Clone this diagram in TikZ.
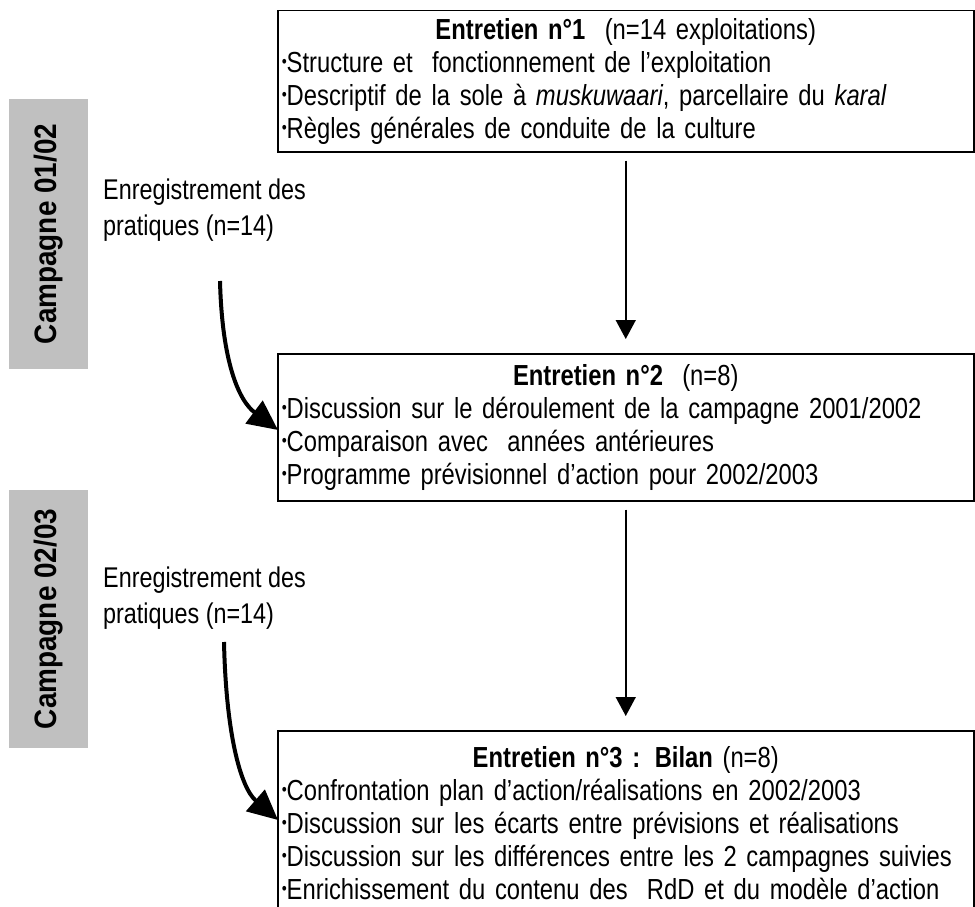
\documentclass[tikz,border=0pt]{standalone}
\usepackage{fontspec}
\setmainfont{Liberation Sans}[FakeStretch=0.82]
\newfontfamily\bandfont{Liberation Sans}[FakeStretch=0.9]
\usetikzlibrary{arrows.meta}
\setlength{\parindent}{0pt}
\definecolor{bandgris}{RGB}{192,192,192}
\newcommand{\puce}{\raisebox{0.28ex}{\scalebox{0.6}{\textbullet}}}

\tikzset{
  entbox/.style={draw, line width=1.5pt, rectangle, anchor=north west, inner xsep=4pt, inner ysep=0pt,
    text width=688pt, minimum width=696pt, align=left, font=\fontsize{29}{33}\selectfont},
  bande/.style={fill=bandgris, rotate=90, inner sep=0pt, minimum height=79pt, font=\bandfont\fontsize{31}{33}\selectfont\bfseries},
  releve/.style={anchor=west, align=left, inner sep=0pt, font=\fontsize{28.5}{36}\selectfont},
  fleche/.style={line width=1.5pt, -{Triangle[length=19pt,width=20pt]}, shorten <=8pt, shorten >=14pt},
  courbe/.style={line width=4pt, -{Triangle[length=30pt,width=28pt]}}
}

\begin{document}
\begin{tikzpicture}[x=1pt,y=-1pt]
\useasboundingbox (0,0) rectangle (975,907);
\clip (0,0) rectangle (975,907);

\node[entbox, minimum height=141pt] (ent1) at (277,10) {\centerline{\textbf{Entretien n°1}\ \ (n=14 exploitations)}
\puce Structure et\ \ fonctionnement de l'exploitation\\
\puce Descriptif de la sole à \textit{muskuwaari}, parcellaire du \textit{karal}\\
\puce Règles générales de conduite de la culture};

\node[entbox, minimum height=147pt] (ent2) at (277,353) {\centerline{\textbf{Entretien n°2}\ \ (n=8)}
\puce Discussion sur le déroulement de la campagne 2001/2002\\
\puce Comparaison avec\ \ années antérieures\\
\puce Programme prévisionnel d'action pour 2002/2003};

\node[entbox, minimum height=184pt] (ent3) at (277,730) {\centerline{\textbf{Entretien n°3 : Bilan} (n=8)}
\puce Confrontation plan d’action/réalisations en 2002/2003\\
\puce Discussion sur les écarts entre prévisions et réalisations\\
\puce Discussion sur les différences entre les 2 campagnes suivies\\
\puce Enrichissement du contenu des\ \ RdD et du modèle d’action};

\node[bande, minimum width=270pt] (camp1) at (48.5,234) {Campagne 01/02};
\node[bande, minimum width=258pt] (camp2) at (48.5,619) {Campagne 02/03};

\node[releve] (rel1) at (103,210) {Enregistrement des\\pratiques (n=14)};
\node[releve] (rel2) at (103,598) {Enregistrement des\\pratiques (n=14)};

\coordinate (dep1) at (220,281);
\coordinate (arr1) at (278,430);
\coordinate (dep2) at (224,642);
\coordinate (arr2) at (278,820);

\path[fleche] (ent1) edge (ent2);
\path[fleche] (ent2) edge (ent3);

\draw[courbe] (dep1) .. controls (222,360) and (238,400) .. (arr1);
\draw[courbe] (dep2) .. controls (226,732) and (240,787) .. (arr2);

\end{tikzpicture}
\end{document}
